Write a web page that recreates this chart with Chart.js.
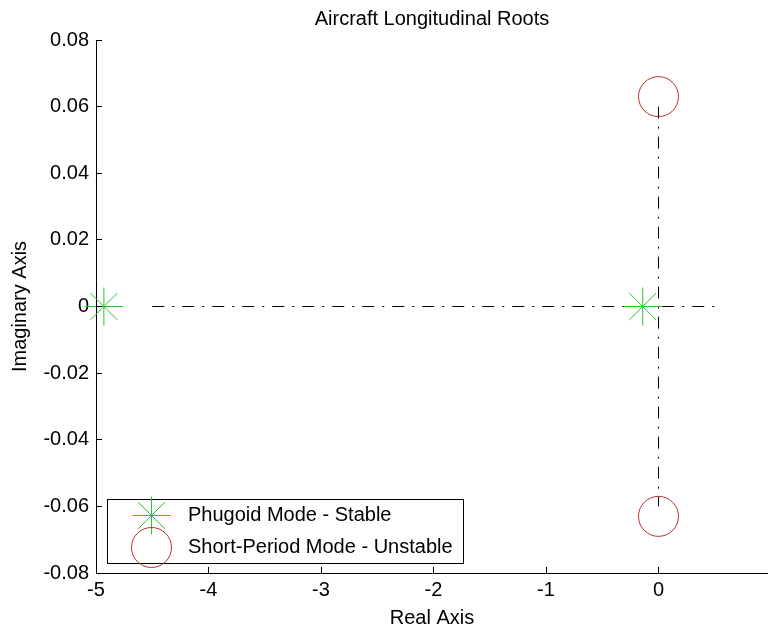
<!DOCTYPE html>
<html><head><meta charset="utf-8">
<script src="https://cdn.jsdelivr.net/npm/chart.js@4"></script>
<style>html,body{margin:0;padding:0;background:#fff;overflow:hidden}#wrap{width:768px;height:628px}</style>
</head><body><div id="wrap"><canvas id="c" width="768" height="628"></canvas></div>
<script>
const chartTitle = 'Aircraft Longitudinal Roots';
const xAxisTitle = 'Real Axis';
const yAxisTitle = 'Imaginary Axis';
const xTickValues = [-5, -4, -3, -2, -1, 0];
const yTickValues = [-0.08, -0.06, -0.04, -0.02, 0, 0.02, 0.04, 0.06, 0.08];
const phugoidLabel = 'Phugoid Mode - Stable';
const phugoidRe = [-4.93, -0.14];
const phugoidIm = [0, 0];
const shortLabel = 'Short-Period Mode - Unstable';
const shortRe = [0, 0];
const shortIm = [0.063, -0.063];
const realLineRe = [-4.5, 0.5];
const realLineIm = [0, 0];
const imagLineRe = [0, 0];
const imagLineIm = [0.06, -0.06];

const FONT = '"Liberation Sans", Arial, Helvetica, sans-serif';
const GREEN = '#2bc42b';
const RED = '#b83030';
const zip = (xs, ys) => xs.map((x, i) => ({x: x, y: ys[i]}));

const whiteBg = {
  id: 'whiteBg',
  beforeDraw(chart) {
    const c = chart.ctx; c.save(); c.fillStyle = '#fff';
    c.fillRect(0, 0, chart.width, chart.height); c.restore();
  }
};

const inwardTicks = {
  id: 'inwardTicks',
  afterDatasetsDraw(chart) {
    const c = chart.ctx, a = chart.chartArea, L = 6;
    c.save(); c.strokeStyle = '#000'; c.lineWidth = 1; c.beginPath();
    chart.scales.x.ticks.forEach(t => {
      const px = Math.floor(chart.scales.x.getPixelForValue(t.value)) + 0.5;
      c.moveTo(px, a.bottom); c.lineTo(px, a.bottom - L);
    });
    chart.scales.y.ticks.forEach(t => {
      const py = Math.floor(chart.scales.y.getPixelForValue(t.value)) + 0.5;
      c.moveTo(a.left, py); c.lineTo(a.left + L, py);
    });
    c.stroke(); c.restore();
  }
};

const boxLegend = {
  id: 'boxLegend',
  afterDraw(chart) {
    const c = chart.ctx;
    const bx = 107, by = 499, bw = 356, bh = 64;
    c.save();
    c.fillStyle = '#fff'; c.fillRect(bx, by, bw, bh);
    c.strokeStyle = '#000'; c.lineWidth = 1; c.strokeRect(bx + 0.5, by + 0.5, bw, bh);
    const mx = 151.5, rows = [515.5, 547.5];
    const r = 19, d = Math.cos(Math.PI / 4) * r;
    c.strokeStyle = GREEN; c.lineWidth = 1; c.beginPath();
    c.moveTo(mx, rows[0] - r); c.lineTo(mx, rows[0] + r);
    c.moveTo(mx - r, rows[0]); c.lineTo(mx + r, rows[0]);
    c.moveTo(mx - d, rows[0] - d); c.lineTo(mx + d, rows[0] + d);
    c.moveTo(mx - d, rows[0] + d); c.lineTo(mx + d, rows[0] - d);
    c.stroke();
    c.strokeStyle = RED; c.beginPath(); c.arc(mx, rows[1], 20, 0, Math.PI * 2); c.stroke();
    c.fillStyle = '#000'; c.font = '20px ' + FONT; c.textBaseline = 'middle'; c.textAlign = 'left';
    c.fillText(phugoidLabel, 188, rows[0]);
    c.fillText(shortLabel, 188, rows[1]);
    c.restore();
  }
};

new Chart(document.getElementById('c'), {
  type: 'scatter',
  data: {
    datasets: [
      {label: 'real', data: zip(realLineRe, realLineIm), showLine: true, borderColor: '#000', borderWidth: 1,
       borderDash: [12, 8, 2, 8], pointRadius: 0, order: 3, clip: false},
      {label: 'imag', data: zip(imagLineRe, imagLineIm), showLine: true, borderColor: '#000', borderWidth: 1,
       borderDash: [12, 8, 2, 8], pointRadius: 0, order: 3, clip: false},
      {label: phugoidLabel, data: zip(phugoidRe, phugoidIm), showLine: false, pointStyle: 'star', pointRadius: 19,
       borderColor: GREEN, backgroundColor: 'transparent', borderWidth: 1, pointBorderWidth: 1, order: 1, clip: false},
      {label: shortLabel, data: zip(shortRe, shortIm), showLine: false, pointStyle: 'circle', pointRadius: 20,
       borderColor: RED, backgroundColor: 'transparent', borderWidth: 1, pointBorderWidth: 1, order: 1, clip: false}
    ]
  },
  options: {
    responsive: false, animation: false, devicePixelRatio: 1,
    layout: {padding: 0, autoPadding: false},
    plugins: {
      legend: {display: false}, tooltip: {enabled: false},
      title: {display: true, text: chartTitle, color: '#000', fullSize: false,
        font: {family: FONT, size: 20, weight: 'normal', lineHeight: 1}, padding: {top: 9, bottom: 11}}
    },
    scales: {
      x: {
        type: 'linear', position: 'bottom', min: -5, max: 0.9733,
        afterBuildTicks: s => { s.ticks = xTickValues.map(v => ({value: v})); },
        afterFit: s => { s.height = 55; s.paddingLeft = 0; s.paddingRight = 0; },
        grid: {drawOnChartArea: false, drawTicks: false},
        border: {display: true, color: '#000', width: 1},
        ticks: {color: '#000', padding: 7.5, maxRotation: 0, autoSkip: false,
          font: {family: FONT, size: 20, lineHeight: 1}, callback: v => String(v)},
        title: {display: true, text: xAxisTitle, color: '#000', font: {family: FONT, size: 20, lineHeight: 1},
          padding: {top: 0, bottom: 0}}
      },
      y: {
        type: 'linear', position: 'left', min: -0.08, max: 0.08,
        afterBuildTicks: s => { s.ticks = yTickValues.map(v => ({value: v})); },
        afterFit: s => { s.width = 96; s.paddingTop = 0; s.paddingBottom = 0; },
        grid: {drawOnChartArea: false, drawTicks: false},
        border: {display: true, color: '#000', width: 1},
        ticks: {color: '#000', padding: 7, autoSkip: false,
          font: {family: FONT, size: 20, lineHeight: 1},
          callback: v => (Math.abs(v) < 1e-9 ? '0' : v.toFixed(2))},
        title: {display: true, text: yAxisTitle, color: '#000', font: {family: FONT, size: 20, lineHeight: 1},
          padding: {top: 10.5, bottom: 0}}
      }
    }
  },
  plugins: [whiteBg, inwardTicks, boxLegend]
});
</script>
</body></html>
